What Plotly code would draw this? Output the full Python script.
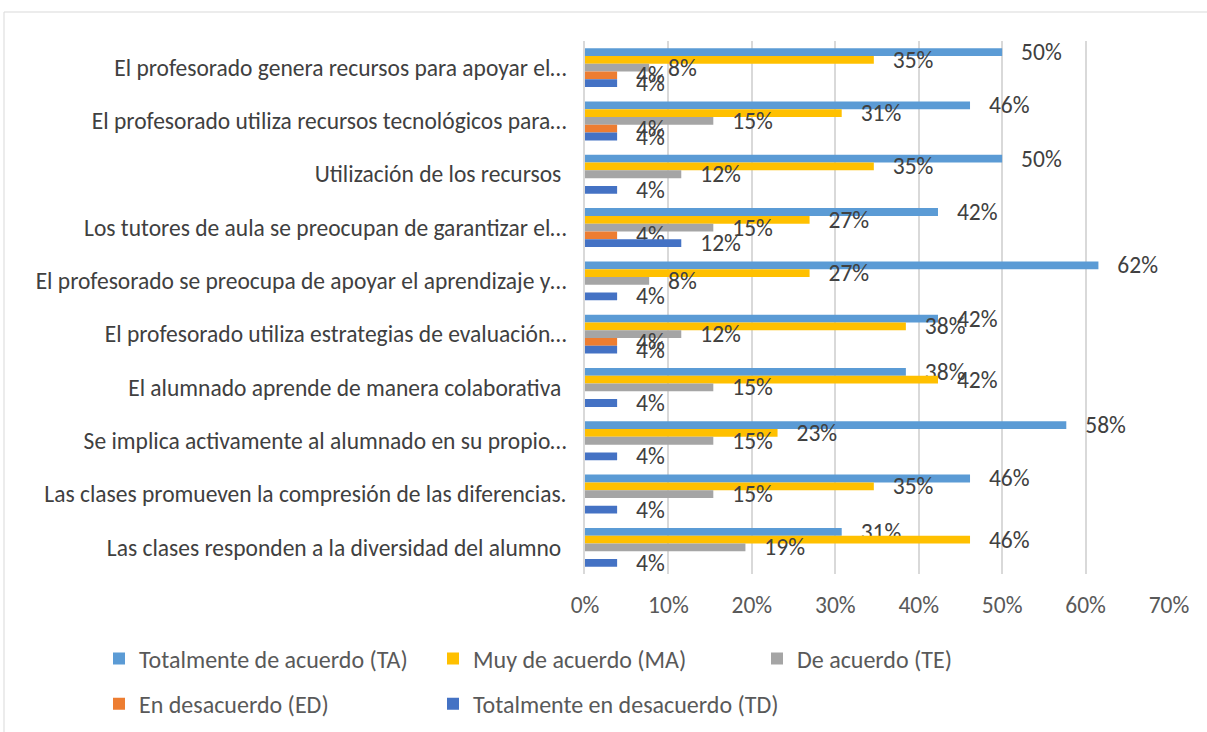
import plotly.graph_objects as go

categories = [
    "El profesorado genera recursos para apoyar el…",
    "El profesorado utiliza recursos tecnológicos para…",
    "Utilización de los recursos ",
    "Los tutores de aula se preocupan de garantizar el…",
    "El profesorado se preocupa de apoyar el aprendizaje y…",
    "El profesorado utiliza estrategias de evaluación…",
    "El alumnado aprende de manera colaborativa ",
    "Se implica activamente al alumnado en su propio…",
    "Las clases promueven la compresión de las diferencias.",
    "Las clases responden a la diversidad del alumno ",
]

# proportions (responses out of 26)
ta = [0.5000, 0.4615, 0.5000, 0.4231, 0.6154, 0.4231, 0.3846, 0.5769, 0.4615, 0.3077]
ma = [0.3462, 0.3077, 0.3462, 0.2692, 0.2692, 0.3846, 0.4231, 0.2308, 0.3462, 0.4615]
te = [0.0769, 0.1538, 0.1154, 0.1538, 0.0769, 0.1154, 0.1538, 0.1538, 0.1538, 0.1923]
ed = [0.0385, 0.0385, None, 0.0385, None, 0.0385, None, None, None, None]
td = [0.0385, 0.0385, 0.0385, 0.1154, 0.0385, 0.0385, 0.0385, 0.0385, 0.0385, 0.0385]

series_names = [
    "Totalmente de acuerdo (TA)",
    "Muy de acuerdo (MA)",
    "De acuerdo (TE)",
    "En desacuerdo (ED)",
    "Totalmente en desacuerdo (TD)",
]
series_values = [ta, ma, te, ed, td]
colors = ["#5B9BD5", "#FFC000", "#A5A5A5", "#ED7D31", "#4472C4"]
legend_ids = ["legend", "legend2", "legend3", "legend", "legend2"]

FONT = "Carlito, Lato, sans-serif"
NB = "\u00a0"
FS = 23.5

fig = go.Figure()
for name, vals, col, lg in zip(series_names, series_values, colors, legend_ids):
    fig.add_trace(go.Bar(
        name=name,
        y=categories,
        x=vals,
        orientation="h",
        marker=dict(color=col, line=dict(width=0)),
        texttemplate=NB * 3 + "%{x:.0%}",
        textposition="outside",
        constraintext="none",
        cliponaxis=False,
        textfont=dict(family=FONT, size=FS, color="#404040"),
        legend=lg,
        legendgroup=name,
        hoverinfo="skip",
    ))

W, H = 1207, 732
L, R, T, B = 585, 38, 41, 158
pw = W - L - R
ph = H - T - B

def px(x):
    return (x - L) / pw

def py(y):
    return (H - B - y) / ph

def col_legend(xpix, ypix):
    return dict(
        orientation="v",
        x=px(xpix), xanchor="left",
        y=py(ypix), yanchor="middle",
        font=dict(family=FONT, size=24, color="#595959"),
        bgcolor="rgba(0,0,0,0)",
        traceorder="grouped",
        tracegroupgap=11,
    )

fig.update_layout(
    width=W, height=H,
    margin=dict(l=L, r=R, t=T, b=B, autoexpand=False),
    paper_bgcolor="white",
    plot_bgcolor="white",
    barmode="group",
    bargap=0.27,
    bargroupgap=0,
    font=dict(family=FONT, size=FS, color="#595959"),
    xaxis=dict(
        range=[0, 0.7],
        tickvals=[0, 0.1, 0.2, 0.3, 0.4, 0.5, 0.6, 0.7],
        tickformat=".0%",
        showgrid=True,
        gridcolor="#D9D9D9",
        gridwidth=1.5,
        zeroline=False,
        showline=False,
        ticks="",
        ticklabelstandoff=14,
        tickfont=dict(family=FONT, size=FS, color="#595959"),
        fixedrange=True,
    ),
    yaxis=dict(
        autorange="reversed",
        showline=True,
        linecolor="#D9D9D9",
        linewidth=1.5,
        showgrid=False,
        ticks="",
        ticklabelstandoff=12,
        tickfont=dict(family=FONT, size=FS, color="#404040"),
        fixedrange=True,
    ),
    legend=col_legend(99, 681.5),
    legend2=col_legend(433, 681.5),
    legend3=col_legend(757, 659),
    showlegend=True,
    shapes=[dict(
        type="rect", xref="paper", yref="paper",
        x0=px(4), x1=px(1230), y0=py(760), y1=py(12),
        line=dict(color="#D9D9D9", width=1),
        fillcolor="rgba(0,0,0,0)", layer="below",
    )],
)

fig.write_html(
    "out.html",
    config={"displayModeBar": False},
    post_script="document.body.style.margin='0px';",
)
